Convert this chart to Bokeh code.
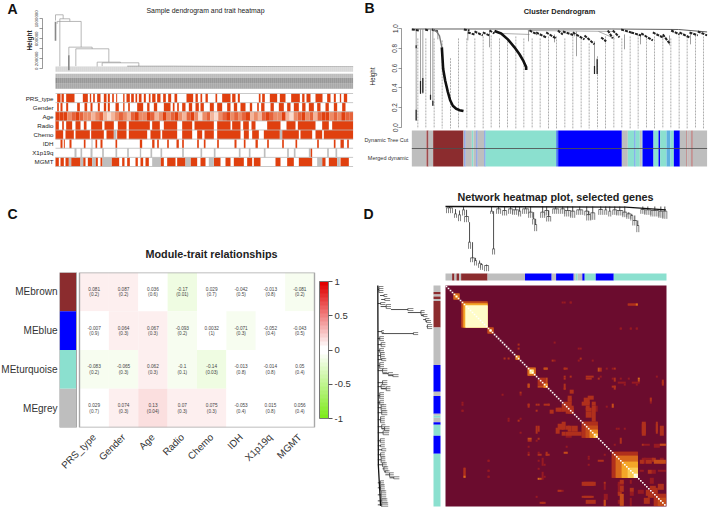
from math import pi
from bokeh.embed import file_html
from bokeh.layouts import column, row
from bokeh.models import (ColorBar, ColumnDataSource, FixedTicker, Label,
                          LinearAxis, LinearColorMapper, Range1d)
from bokeh.plotting import figure
from bokeh.resources import INLINE

FONT = "Liberation Sans"
RED, GREY, PALE = "#E0400F", "#BEBEBE", "#FFFFFF"
BROWN, BLUE, TURQ = "#8B2C2E", "#0000FF", "#8BE0CF"
CC = {"g": GREY, "b": BROWN, "B": BLUE, "t": TURQ, "l": "#4A78F0", "c": "#5FB0E0", "r": "#B98080"}

# ---------- A: sample tree and traits (positions are sample ranks, heights in tree units)
a_title = "Sample dendrogram and trait heatmap"
a_ticks = [0, 200000, 400000, 600000, 800000, 1000000]
a_tick_labels = ["0", "200000", "", "600000", "", "1000000"]
# bracket: left rank, right rank, bar height, left end, right end
a_tree = [(165, 188, 1080000, 965000, 1000000), (178, 208, 1000000, 47000, 947000),
          (170, 242, 947000, 900000, 433000), (205, 275, 433000, 267000, 400000),
          (226, 325, 400000, 53000, 133000), (290, 360, 133000, 10000, 120000),
          (305, 415, 120000, 53000, 53000)]
a_base_rank = [380, 520, 800, 1058]
a_base_height = [50000, 50000, 45000, 40000]
traits_a = ["PRS_type", "Gender", "Age", "Radio", "Chemo", "IDH", "X1p19q", "MGMT"]
prs_red = [(170,180),(183,190),(197,222),(247,262),(268,272),(278,283),(290,300),(310,318),(322,328),(335,340),(347,350),(368,372),(378,388),(392,400),(405,410),(415,423),(430,436),(445,450),(455,465),(470,480),(488,496),(503,512),(522,530),(558,578),(585,592),(600,605),(615,622),(645,650),(665,690),(695,705),(712,718),(775,780),(785,793),(808,830),(838,855),(872,898),(905,912),(918,930),(945,966),(980,990),(1000,1006),(1018,1022),(1030,1040)]
gender_red = [(170,175),(180,186),(197,203),(230,238),(252,260),(270,276),(292,298),(310,317),(322,328),(345,355),(368,372),(383,388),(410,428),(440,447),(460,470),(490,510),(517,522),(530,535),(545,555),(565,575),(585,595),(600,610),(628,640),(650,665),(680,690),(700,710),(720,735),(748,755),(770,775),(782,792),(810,820),(835,850),(860,870),(880,895),(905,915),(925,940),(950,960),(975,985),(1000,1010),(1025,1035)]
age_level = [.9,.95,.9,.6,.8,.9,.7,.5,.6,.4,.55,.7,.45,.3,.45,.6,.8,.5,.4,.7,.85,.6,.5,.9,.7,.4,.6,.85,.5,.7,.95,.6,.4,.7,.85,.5,.3,.6,.8,.35,.25,.5,.75,.9,.6,.7,.55,.8,.9,.45,.6,.35,.7,.9,.8,.5,.65,.85,.45,.3,.6,.8,.9,.6,.7,.4,.75,.85,.9,.65,.8,.5,.9,.75,.8]
radio_red = [(165,175),(185,190),(197,215),(225,240),(250,258),(272,305),(312,340),(352,378),(385,448),(455,478),(490,530),(545,575),(582,640),(650,690),(695,720),(728,745),(753,765),(800,840),(858,885),(892,945),(965,985),(995,1058)]
chemo_red = [(165,188),(195,220),(225,268),(272,310),(318,340),(350,378),(385,440),(450,480),(485,530),(545,575),(590,605),(612,640),(650,720),(730,745),(755,775),(790,838),(845,895),(900,935),(945,965),(970,1058)]
chemo_na = [(340,348),(838,845)]
idh_red = [(180,186),(190,193),(207,213),(250,255),(285,290),(300,306),(345,350),(418,425),(455,462),(470,475),(500,505),(528,535),(545,550),(590,595),(610,615),(650,655),(702,708),(730,735),(765,772),(800,805),(845,850),(885,890),(950,955),(1000,1005),(1020,1030),(1040,1045)]
idh_na = [(273,276)]
codel_na = [(222,228),(240,245),(270,276),(305,310),(345,350),(380,385),(418,422),(450,455),(480,485),(545,550),(600,605),(640,645),(715,720),(745,750),(790,795),(860,865),(880,885),(925,930),(980,985),(1005,1010)]
codel_red = [(930,935)]
mgmt_red = [(165,175),(180,190),(195,205),(212,240),(248,255),(262,275),(285,292),(300,306),(333,356),(365,372),(380,388),(405,412),(420,428),(435,445),(480,490),(500,525),(530,555),(570,590),(600,615),(640,660),(675,690),(700,730),(740,755),(760,780),(825,840),(860,880),(895,935),(965,975),(985,1010),(1020,1045)]
mgmt_na = [(205,212),(240,248),(275,285),(306,333),(455,480),(555,570),(625,640),(950,965),(1010,1018)]

# ---------- B: gene tree (rank, height) and module strips
b_title = "Cluster Dendrogram"
b_ticks = [0, .2, .4, .6, .8, 1]
b_spine_rank = [0, 600, 800, 886]
b_spine_height = [.995, .995, .99, .965]
brown_rank = [63, 73, 83, 90, 94, 100, 108, 115, 123, 133, 143, 155]
brown_height = [.99, .975, .925, .81, .59, .475, .36, .275, .22, .19, .175, .167]
turq_rank = [248, 268, 288, 308, 323, 335, 343, 343]
turq_height = [.975, .95, .89, .81, .74, .67, .61, .58]
b_twigs = [(0,.99,23,.98),(40,.99,50,.98),(60,.99,78,.97),(156,.99,173,.98),(168,.96,188,.94),(188,.97,213,.93),(213,.96,233,.93),(233,.98,248,.95),(353,.98,376,.94),(373,.96,403,.91),(403,.96,433,.90),(438,.98,453,.94),(453,.97,488,.93),(483,.96,518,.89),(518,.93,548,.84),(568,.91,583,.87),(588,.98,603,.90),(603,.98,623,.91),(628,.99,658,.96),(658,.96,688,.93),(688,.95,723,.88),(723,.96,753,.91),(753,.94,773,.85),(778,.98,803,.94),(803,.96,833,.91),(833,.96,858,.93),(858,.97,886,.93)]
b_stems = [(13,.99,.07),(26,.99,.34),(33,.99,.34),(56,.99,.28),(63,.99,.22),(78,.97,.89),(168,.97,.88),(233,.98,.81),(350,.98,.87),(428,.94,.86),(494,.97,.72),(548,.87,.54),(556,.7,.54),(638,.94,.79),(686,.93,.84),(773,.93,.83),(836,.95,.84)]
b_stem_ends = [(13,.18,.07),(13,.83,.80),(26,.47,.34),(33,.5,.35),(56,.33,.28),(63,.27,.22),(556,.69,.54),(548,.62,.54)]
b_links = [(268,.95,353,.94),(348,.98,608,.97),(560,.97,608,.90)]
guide_rank = [18,42,67,91,116,140,165,189,214,238,263,287,312,336,361,385,410,434,459,483,508,532,557,581,606,630,655,679,704,728,753,777,802,826,851,875]
guide_top = [.9,.9,.9,.88,.7,.9,.9,.9,.92,.93,.9,.87,.92,.9,.9,.9,.92,.92,.9,.92,.9,.85,.72,.92,.93,.9,.92,.94,.9,.92,.9,.9,.95,.92,.93,.92]
strip_edges = [0,43,46,50,64,155,158,161,180,185,194,197,218,221,433,439,630,648,668,671,684,690,692,725,740,745,764,776,786,804,823,826,831,833,838,843,886]
strip_colours = ["g","r","b","g","b","g","l","g","t","g","l","g","l","t","l","B","g","t","l","t","g","t","B","t","B","t","c","t","B","g","r","g","r","g","r","g"]
strip_names = ["Merged dynamic", "Dynamic Tree Cut"]

# ---------- C: module-trait table
c_title = "Module-trait relationships"
traits_c = ["PRS_type", "Gender", "Age", "Radio", "Chemo", "IDH", "X1p19q", "MGMT"]
modules = ["MEbrown", "MEblue", "MEturquoise", "MEgrey"]
module_colours = [BROWN, BLUE, TURQ, GREY]
corr = [[.081, .087, .036, -.17, .029, -.042, -.013, -.081],
        [-.007, .064, .067, -.093, .0032, -.071, -.052, -.043],
        [-.083, -.065, .062, -.1, -.14, -.013, -.014, .05],
        [.029, .074, .13, .07, .075, -.053, .015, .056]]
pvals = [["0.2", "0.2", "0.6", "0.01", "0.7", "0.5", "0.8", "0.2"],
         ["0.9", "0.3", "0.3", "0.2", "1", "0.3", "0.4", "0.5"],
         ["0.2", "0.3", "0.3", "0.1", "0.03", "0.8", "0.8", "0.4"],
         ["0.7", "0.3", "0.04", "0.3", "0.3", "0.4", "0.8", "0.4"]]
scale_ticks = [-1, -.5, 0, .5, 1]

# ---------- D: selected genes
d_title = "Network heatmap plot, selected genes"
n_genes = 110.33
# cluster: first gene, last gene, fork level, leaf level, parent level (0 = root, larger = lower in tree)
d_clusters = [(0,3,4,20,0),(4,5,22,34,8),(6,7,25,44,12),(8,9,10,27,0),(9,11,30,47,10),(11,12,107,127,47),(12,14,154,167,107),(14,15,162,177,154),(16,17,170,184,162),(17,18,174,190,170),(19,21,177,194,174),(22,23,14,22,0),(23,24,127,144,14),(25,27,7,22,0),(28,30,12,27,0),(31,33,7,22,0),(33,36,10,25,0),(36,37,14,30,0),(38,41,7,22,0),(41,43,17,34,0),(43,44,37,54,17),(44,45,54,74,37),(47,49,17,34,0),(49,51,12,27,0),(50,52,30,45,12),(53,56,7,22,0),(57,59,7,22,0),(59,62,12,30,0),(62,64,14,34,0),(65,68,10,25,0),(69,71,14,27,0),(70,72,24,42,14),(72,74,19,40,0),(76,78,9,25,0),(79,80,10,25,0),(81,82,14,30,0),(83,85,10,25,0),(85,88,12,27,0),(88,90,17,32,0),(90,92,22,37,17),(92,93,27,42,22),(93,95,42,57,27),(95,96,57,77,42),(97,99,9,22,0),(99,102,10,25,0),(102,106,12,30,0),(106,108,14,34,0),(108,110,14,37,0)]
d_spine_gene = [0, 90, 110]
d_spine_level = [0, 2, 10]
d_edges = [0,3.3,4.5,5.5,6.8,7.8,21,39.7,53,55.2,64,65,66,68.3,69.5,75,84,110.33]
d_colours = ["g","b","g","b","g","b","g","B","g","B","g","t","g","B","t","B","t"]
# hot blocks: x0, x1, y0, y1, level; drawn on both sides of the diagonal
d_blocks = [(8,21,8,21,.45),(9,21,9,21,.7),(10,21,10,21,.95),(4,7,4,7,.5),(5,6,5,6,.8),(21,24,21,24,.45),(22,23,22,23,.98),(35,37,35,37,.55),(41,45,41,45,.5),(42,44,42,44,.85),(46,50,47,50,.35),(49,51,49,51,.6),(41,42,49,51,.45),(49,51,41,42,.4),(46,51,50,51,.4),
 (58,59,8,9,.2),(62,63,8,9,.2),(91,96,9,10,.3),(95,96,9,10,.5),(87,88,21,22,.25),(92,93,21,22,.25),(95,96,21,22,.25),(67,68,31,32,.25),(67,68,36,37,.3),(53,54,37,38,.3),(73,74,37,38,.25),(29,30,36,37,.3),(31,32,36,37,.3),(59,61,41,42,.3),(77,78,41,43,.3),(80,81,41,42,.25),(83,84,41,42,.25),(59,60,45,46,.3),(62,63,45,46,.3),(70,74,45,46,.3),(77,78,45,46,.25),(83,84,46,47,.25),(87,88,46,47,.25),(91,92,46,47,.25),(96,97,46,47,.5),(105,106,45,46,.25),(108,109,48,50,.3),(83,85,50,51,.3),(89,90,49,50,.25),(95,96,49,50,.25),(59,60,51,52,.35),(62,64,52,54,.3),(37,38,54,55,.25),(28,29,54,55,.2),(102,103,56,57,.25),(102,103,58,59,.25),
 (61,63,55,58,.35),(59,63,58,61,.3),(60,64,61,64,.35),(56,59,61,63,.25),(71,74,55,57,.3),(68,72,58,60,.35),(73,75,58,60,.3),(70,73,61,63,.3),(74,76,60,63,.25),(80,81,60,61,.25),(83,84,60,61,.25),(41,42,59,60,.3),(46,47,59,60,.3),(49,52,59,60,.3),(8,9,59,60,.2),(8,9,62,63,.2),(31,32,66,67,.25),(37,38,66,67,.25),
 (68,76,68,76,.3),(70,76,70,76,.4),(72,76,72,76,.6),(74,76,74,76,.75),(56,59,69,72,.35),(60,62,70,72,.3),(63,66,70,73,.35),(60,68,73,75,.35),(46,47,70,73,.3),(41,43,76,77,.4),(46,47,76,77,.3),(98,100,69,75,.3),(105,106,69,73,.35),(107,109,70,75,.3),(85,86,71,72,.2),(89,90,71,72,.2),(99,102,79,80,.25),(104,107,79,81,.25),(107,110,79,80,.4),(84,85,79,80,.25),
 (41,42,84,85,.3),(46,48,84,85,.3),(50,52,84,85,.3),(59,61,83,84,.4),(71,72,86,87,.25),(76,79,87,88,.3),(83,96,83,96,.35),(85,96,85,96,.5),(88,96,88,96,.65),(91,96,91,96,.8),(94,96,94,96,.92),(97,99,87,89,.3),(100,103,87,89,.3),(104,110,87,89,.4),(99,104,86,87,.25),(97,99,92,93,.25),(101,103,92,94,.3),(106,110,92,93,.25),(48,49,86,90,.2),(48,49,93,97,.2),(47,48,96,97,.45),(21,22,87,88,.25),(21,22,92,93,.25),(21,22,95,96,.25),(9,10,91,96,.35),
 (68,74,98,100,.35),(79,80,98,99,.3),(68,74,105,106,.3),(86,89,98,100,.25),(86,88,103,105,.3),(86,89,107,109,.25),(56,58,102,103,.3),(47,49,108,109,.3),(79,80,107,110,.3),(100,102,102,105,.3),(103,106,101,104,.3),(104,110,104,110,.35),(106,110,106,110,.4),(96,99,102,104,.25),(99,102,106,109,.3),(92,94,103,105,.25)]
heat_stops = ["#6B0C2E", "#7A1028", "#971A22", "#B0301C", "#C54C1A", "#D86A1C", "#E88620", "#F4A628", "#FBCB54", "#FEEB90", "#FFFCC8"]


def at(p_a, p_b, v_a, v_b, f_a, f_b):
    """Range whose ends are the values found at the frame's two page-pixel edges."""
    k = (v_b - v_a) / (p_b - p_a)
    return Range1d(start=v_a + (f_a - p_a) * k, end=v_a + (f_b - p_a) * k)


def panel(box, frame, x_range, y_range):
    l, t, r, b = box
    fl, ft, fr, fb = frame
    p = figure(width=r - l, height=b - t, x_range=x_range, y_range=y_range, output_backend="svg",
               toolbar_location=None, min_border_left=fl - l, min_border_right=r - fr,
               min_border_top=ft - t, min_border_bottom=b - fb, outline_line_color=None, tools="",
               frame_align=False)
    p.background_fill_color = None
    p.border_fill_color = None
    p.grid.visible = False
    p.axis.visible = False
    return p


layer = panel((0, 0, 708, 507), (0, 0, 708, 507), Range1d(0, 708), Range1d(507, 0))
layer.margin = (-507, 0, 0, 0)


def note(text, x, y, size, bold=False, align="center", colour="#222222", angle=0):
    layer.add_layout(Label(x=x, y=y, text=text, text_font=FONT, text_font_size=f"{size}px",
                           text_font_style="bold" if bold else "normal", angle=angle,
                           text_align=align, text_baseline="middle", text_color=colour))


def left_axis(p, ticks, labels, bounds, font, colour="#333333"):
    ax = LinearAxis(ticker=FixedTicker(ticks=ticks), bounds=bounds, major_label_orientation="vertical",
                    major_label_overrides={t: s for t, s in zip(ticks, labels)},
                    major_label_text_font=FONT, major_label_text_font_size=font, major_label_text_color=colour,
                    major_tick_out=3, major_tick_in=0, minor_tick_line_color=None, major_label_standoff=1,
                    axis_line_color="#555555", major_tick_line_color="#555555",
                    axis_line_width=.6, major_tick_line_width=.6)
    p.add_layout(ax, "left")
    return ax


# ================= Panel A
pa_box, pa_frame = (0, 0, 354, 180), (42, 12, 353, 172)
pa = panel(pa_box, pa_frame, at(0, 1, 0, 3, 42, 353), at(68.3, 18.3, 0, 1000000, 172, 12))
pa.extra_y_ranges["rows"] = at(93, 166, 0, 8, 172, 12)
left_axis(pa, a_ticks, a_tick_labels, (0, 1000000), "4.4px")
note("Height", 29, 40, 6.5, bold=True, angle=pi / 2)
xs, ys = [], []
for x0, x1, h, h0, h1 in a_tree:
    xs.append([x0, x0, x1, x1])
    ys.append([h0, h, h, h1])
pa.multi_line(xs, ys, line_color="#9A9A9A", line_width=.7)
pa.line(a_base_rank, a_base_height, line_color="#555555", line_width=.8)
# leaf labels blurred to a texture in the source
leaf_rank = list(range(172, 1058, 6))
pa.quad(left=165, right=1058, top=45000, bottom=-60000, fill_color="#D4D4D4", line_color=None)
pa.quad(left=165, right=1058, top=-100000, bottom=-180000, fill_color="#B8B8B8", line_color=None)
pa.quad(left=165, right=1058, top=-180000, bottom=-300000, fill_color="#8C8C8C", line_color=None)
pa.quad(left=165, right=1058, top=-300000, bottom=-400000, fill_color="#A0A0A0", line_color=None)
pa.segment(leaf_rank, [45000] * len(leaf_rank), leaf_rank, [-60000] * len(leaf_rank), line_color="#EEEEEE", line_width=.5)
pa.segment(leaf_rank, [-100000] * len(leaf_rank), leaf_rank, [-400000] * len(leaf_rank), line_color="#DDDDDD", line_width=.5)
pa.segment([165, 205], [940000, 270000], [165, 205], [560000, -30000], line_color="#888888", line_width=1.6)


def runs(row_i, reds, colour):
    return dict(left=[a for a, b in reds], right=[b for a, b in reds],
                top=[row_i] * len(reds), bottom=[row_i + 1] * len(reds), c=[colour] * len(reds))


rows_red = {0: prs_red, 1: gender_red, 3: radio_red, 4: chemo_red, 5: idh_red, 6: codel_red, 7: mgmt_red}
rows_na = {4: chemo_na, 5: idh_na, 6: codel_na, 7: mgmt_na}
for r, reds in rows_red.items():
    pa.quad(source=ColumnDataSource(runs(r, reds, RED)), left="left", right="right", top="top", bottom="bottom",
            fill_color="c", line_color=None, y_range_name="rows")
for r, nas in rows_na.items():
    pa.quad(source=ColumnDataSource(runs(r, nas, GREY)), left="left", right="right", top="top", bottom="bottom",
            fill_color="c", line_color=None, y_range_name="rows")
age_w = (1058 - 165) / len(age_level)
age_map = LinearColorMapper(palette=["#FFFFFF", "#F9DCCF", "#F3B59B", "#EC8B66", "#E6633A", RED], low=0, high=1)
pa.quad(source=ColumnDataSource(dict(left=[165 + i * age_w for i in range(len(age_level))],
                                     right=[165 + (i + 1) * age_w for i in range(len(age_level))],
                                     top=[2] * len(age_level), bottom=[3] * len(age_level), v=age_level)),
        left="left", right="right", top="top", bottom="bottom",
        fill_color={"field": "v", "transform": age_map}, line_color=None, y_range_name="rows")
grid_rows = list(range(len(traits_a) + 1))
pa.segment([165] * 9, grid_rows, [1058] * 9, grid_rows, line_color="#BBBBBB", line_width=.8, y_range_name="rows")
for i, name in enumerate(traits_a):
    note(name, 53, 93 + 73 * (i + .5) / 8, 6.2, align="right")
note("A", 7, 8, 14, bold=True, align="left", colour="#111111")
note(a_title, 205, 10, 6.9)

# ================= Panel B
pb_box, pb_frame = (354, 0, 708, 180), (401, 20, 707, 172)
pb = panel(pb_box, pb_frame, at(354 + 172 / 3, 354 + 1058 / 3, 0, 886, 401, 707), at(127, 28, 0, 1, 172, 20))
pb.extra_y_ranges["rows"] = at(166, 130, 0, 2, 172, 20)
left_axis(pb, b_ticks, ["0.0", "0.2", "0.4", "0.6", "0.8", "1.0"], (0, 1), "6.3px")
note("Height", 372, 76, 6.3, angle=pi / 2)
pb.segment(guide_rank, guide_top, guide_rank, [-.01] * len(guide_rank), line_color="#777777", line_width=.6, line_dash="2 1")
pb.segment([a for a, b, c in b_stems], [b for a, b, c in b_stems], [a for a, b, c in b_stems], [c for a, b, c in b_stems], line_color="#777777", line_width=.7)
pb.segment([a for a, b, c in b_stem_ends], [b for a, b, c in b_stem_ends], [a for a, b, c in b_stem_ends], [c for a, b, c in b_stem_ends], line_color="#222222", line_width=1.2)
pb.segment([a for a, b, c, d in b_links], [b for a, b, c, d in b_links], [c for a, b, c, d in b_links], [d for a, b, c, d in b_links], line_color="#777777", line_width=.6)
pb.line(b_spine_rank, b_spine_height, line_color="#333333", line_width=.8)
pb.segment([t[0] for t in b_twigs], [t[1] for t in b_twigs], [t[2] for t in b_twigs], [t[3] for t in b_twigs], line_color="#222222", line_width=2, line_dash="3 1")
pb.line(brown_rank[:4], brown_height[:4], line_color="#777777", line_width=1.4)
pb.line(brown_rank[3:], brown_height[3:], line_color="#111111", line_width=2.6)
pb.line(turq_rank, turq_height, line_color="#111111", line_width=2.6)
for r in (0, 1):
    pb.quad(left=strip_edges[:-1], right=strip_edges[1:], bottom=[r] * len(strip_colours), top=[r + 1] * len(strip_colours),
            fill_color=[CC[c] for c in strip_colours], line_color=None, y_range_name="rows")
pb.segment([0], [1], [886], [1], line_color="#444444", line_width=.8, y_range_name="rows")
for i, name in enumerate(strip_names):
    note(name, 408, 157 - 18 * i, 5.5, align="right", colour="#333333")
note("B", 364, 7, 14, bold=True, align="left", colour="#111111")
note(b_title, 559, 11, 7.4, bold=True)

# ================= Panel C
pc_box, pc_frame = (0, 180, 354, 507), (59, 272, 354, 427)
pc = panel(pc_box, pc_frame, at(79, 314, 0, 8, 59, 354), at(272, 427, 0, 4, 427, 272))
green_ramp = [f"#{int(255 - (255 - 127) * k / 16):02X}{int(255 - (255 - 235) * k / 16):02X}{int(255 - (255 - 30) * k / 16):02X}" for k in range(16, 0, -1)]
red_ramp = [f"#{int(255 - (255 - 225) * k / 16):02X}{int(255 - 255 * k / 16):02X}{int(255 - 255 * k / 16):02X}" for k in range(1, 17)]
corr_map = LinearColorMapper(palette=green_ramp + ["#FFFFFF", "#FFFFFF"] + red_ramp, low=-1, high=1)
cx, cy, cv, ct, cp = [], [], [], [], []
for i, m in enumerate(modules):
    for j in range(len(traits_c)):
        cx.append(j + .5); cy.append(i + .5); cv.append(corr[i][j])
        ct.append(f"{corr[i][j]:g}"); cp.append(f"({pvals[i][j]})")
cell = ColumnDataSource(dict(x=cx, y=cy, v=cv, t=ct, p=cp))
pc.rect(x="x", y="y", width=1, height=1, source=cell, fill_color={"field": "v", "transform": corr_map}, line_color=None)
pc.text(x="x", y="y", text="t", source=cell, text_font_size="4.7px", text_align="center", text_baseline="middle",
        y_offset=-3, text_color="#444444")
pc.text(x="x", y="y", text="p", source=cell, text_font_size="4.7px", text_align="center", text_baseline="middle",
        y_offset=3, text_color="#444444")
swatch_l, swatch_r = -.68, -.102
pc.rect(x=(swatch_l + swatch_r) / 2, y=[i + .5 for i in range(4)], width=swatch_r - swatch_l, height=1,
        fill_color=module_colours, line_color=None)
xa = LinearAxis(ticker=FixedTicker(ticks=[j + .5 for j in range(8)]),
                major_label_overrides={j + .5: t for j, t in enumerate(traits_c)},
                major_label_orientation=pi / 4, major_label_text_font=FONT, major_label_text_font_size="9.8px",
                major_label_text_color="#333333", axis_line_color=None, major_tick_line_color=None,
                minor_tick_line_color=None, major_label_standoff=2)
pc.add_layout(xa, "below")
for i, m in enumerate(modules):
    note(m, 57, 272 + 155 * (i + .5) / 4, 10, align="right", colour="#333333")
pc.quad(left=[0], right=[8], bottom=[4], top=[0], fill_color=None, line_color="#A8A8A8", line_width=1.4)
pc.quad(left=[swatch_l], right=[swatch_r], bottom=[4], top=[0], fill_color=None, line_color="#A8A8A8", line_width=1)
cb = ColorBar(color_mapper=corr_map, ticker=FixedTicker(ticks=scale_ticks), width=9, height=137,
              major_label_overrides={-1: "-1", -.5: "-0.5", 0: "0", .5: "0.5", 1: "1"},
              major_label_text_font=FONT, major_label_text_font_size="9.5px", major_label_text_color="#333333",
              major_tick_in=0, major_tick_out=4, major_tick_line_color="#555555", label_standoff=2,
              bar_line_color="#777777", padding=0, margin=0, location=(260, 9))
pc.add_layout(cb)
note("C", 7, 213, 14, bold=True, align="left", colour="#111111")
note(c_title, 211, 253, 10.8, bold=True)

# ================= Panel D
pd_box, pd_frame = (354, 180, 708, 507), (354, 180, 708, 507)
pd = panel(pd_box, pd_frame, at(445, 666, 0, n_genes, 354, 708), at(285, 506, 0, n_genes, 507, 180))
pd.extra_y_ranges["level"] = at(206, 270.7, 0, 194, 507, 180)
pd.extra_x_ranges["level"] = at(377.3, 431.7, 0, 194, 354, 708)
bars_g0, bars_g1, bars_l, leaf_g, leaf_a, leaf_b, st_g, st_a, st_b = [], [], [], [], [], [], [], [], []
for g0, g1, fork, leaf, parent in d_clusters:
    bars_g0.append(g0); bars_g1.append(g1); bars_l.append(fork)
    for g in range(g0, g1 + 1):
        leaf_g.append(g + .5); leaf_a.append(fork); leaf_b.append(leaf)
    st_g.append((g0 + g1 + 1) / 2); st_a.append(parent); st_b.append(fork)
bars_x0 = [g + .5 for g in bars_g0]
bars_x1 = [g + .5 for g in bars_g1]
# top tree
pd.segment(bars_x0, bars_l, bars_x1, bars_l, line_color="#222222", line_width=.7, y_range_name="level")
pd.segment(leaf_g, leaf_a, leaf_g, leaf_b, line_color="#666666", line_width=.8, y_range_name="level")
pd.segment(st_g, st_a, st_g, st_b, line_color="#222222", line_width=.8, y_range_name="level")
pd.line(d_spine_gene, d_spine_level, line_color="#111111", line_width=1.3, y_range_name="level")
# left tree (same tree turned on its side)
pd.segment(bars_l, bars_x0, bars_l, bars_x1, line_color="#222222", line_width=.7, x_range_name="level")
pd.segment(leaf_a, leaf_g, leaf_b, leaf_g, line_color="#666666", line_width=.8, x_range_name="level")
pd.segment(st_a, st_g, st_b, st_g, line_color="#222222", line_width=.8, x_range_name="level")
pd.line(d_spine_level, d_spine_gene, line_color="#111111", line_width=1.3, x_range_name="level")
# module strips
d_fill = [CC[c] for c in d_colours]
pd.extra_y_ranges["strip"] = at(273, 280, 0, 1, 507, 180)
pd.extra_x_ranges["strip"] = at(433, 440, 0, 1, 354, 708)
pd.quad(left=d_edges[:-1], right=d_edges[1:], top=[0] * len(d_fill), bottom=[1] * len(d_fill), fill_color=d_fill, line_color=None, y_range_name="strip")
pd.quad(left=[0] * len(d_fill), right=[1] * len(d_fill), top=d_edges[:-1], bottom=d_edges[1:], fill_color=d_fill, line_color=None, x_range_name="strip")
# matrix
heat_map = LinearColorMapper(palette=heat_stops, low=0, high=1)
pd.quad(left=[0], right=[n_genes], top=[0], bottom=[n_genes], fill_color=heat_stops[0], line_color=None)
blocks = sorted(d_blocks, key=lambda b: b[4])
bl, br, bt, bb, bv = [], [], [], [], []
for x0, x1, y0, y1, v in blocks:
    bl += [x0, y0]; br += [x1, y1]; bt += [y0, x0]; bb += [y1, x1]; bv += [v, v]
pd.quad(source=ColumnDataSource(dict(left=bl, right=br, top=bt, bottom=bb, v=bv)), left="left", right="right", top="top", bottom="bottom",
        fill_color={"field": "v", "transform": heat_map}, line_color=None)
diag = list(range(110))
pd.rect(x=[g + .5 for g in diag], y=[g + .5 for g in diag], width=.8, height=.8, fill_color="#FFFFFF", line_color=None)
note("D", 363, 213, 14, bold=True, align="left", colour="#111111")
note(d_title, 555, 196, 10.8, bold=True)

root = column(row(column(pa, pc), column(pb, pd)), layer)
open("out.html", "w").write(file_html(root, INLINE))
